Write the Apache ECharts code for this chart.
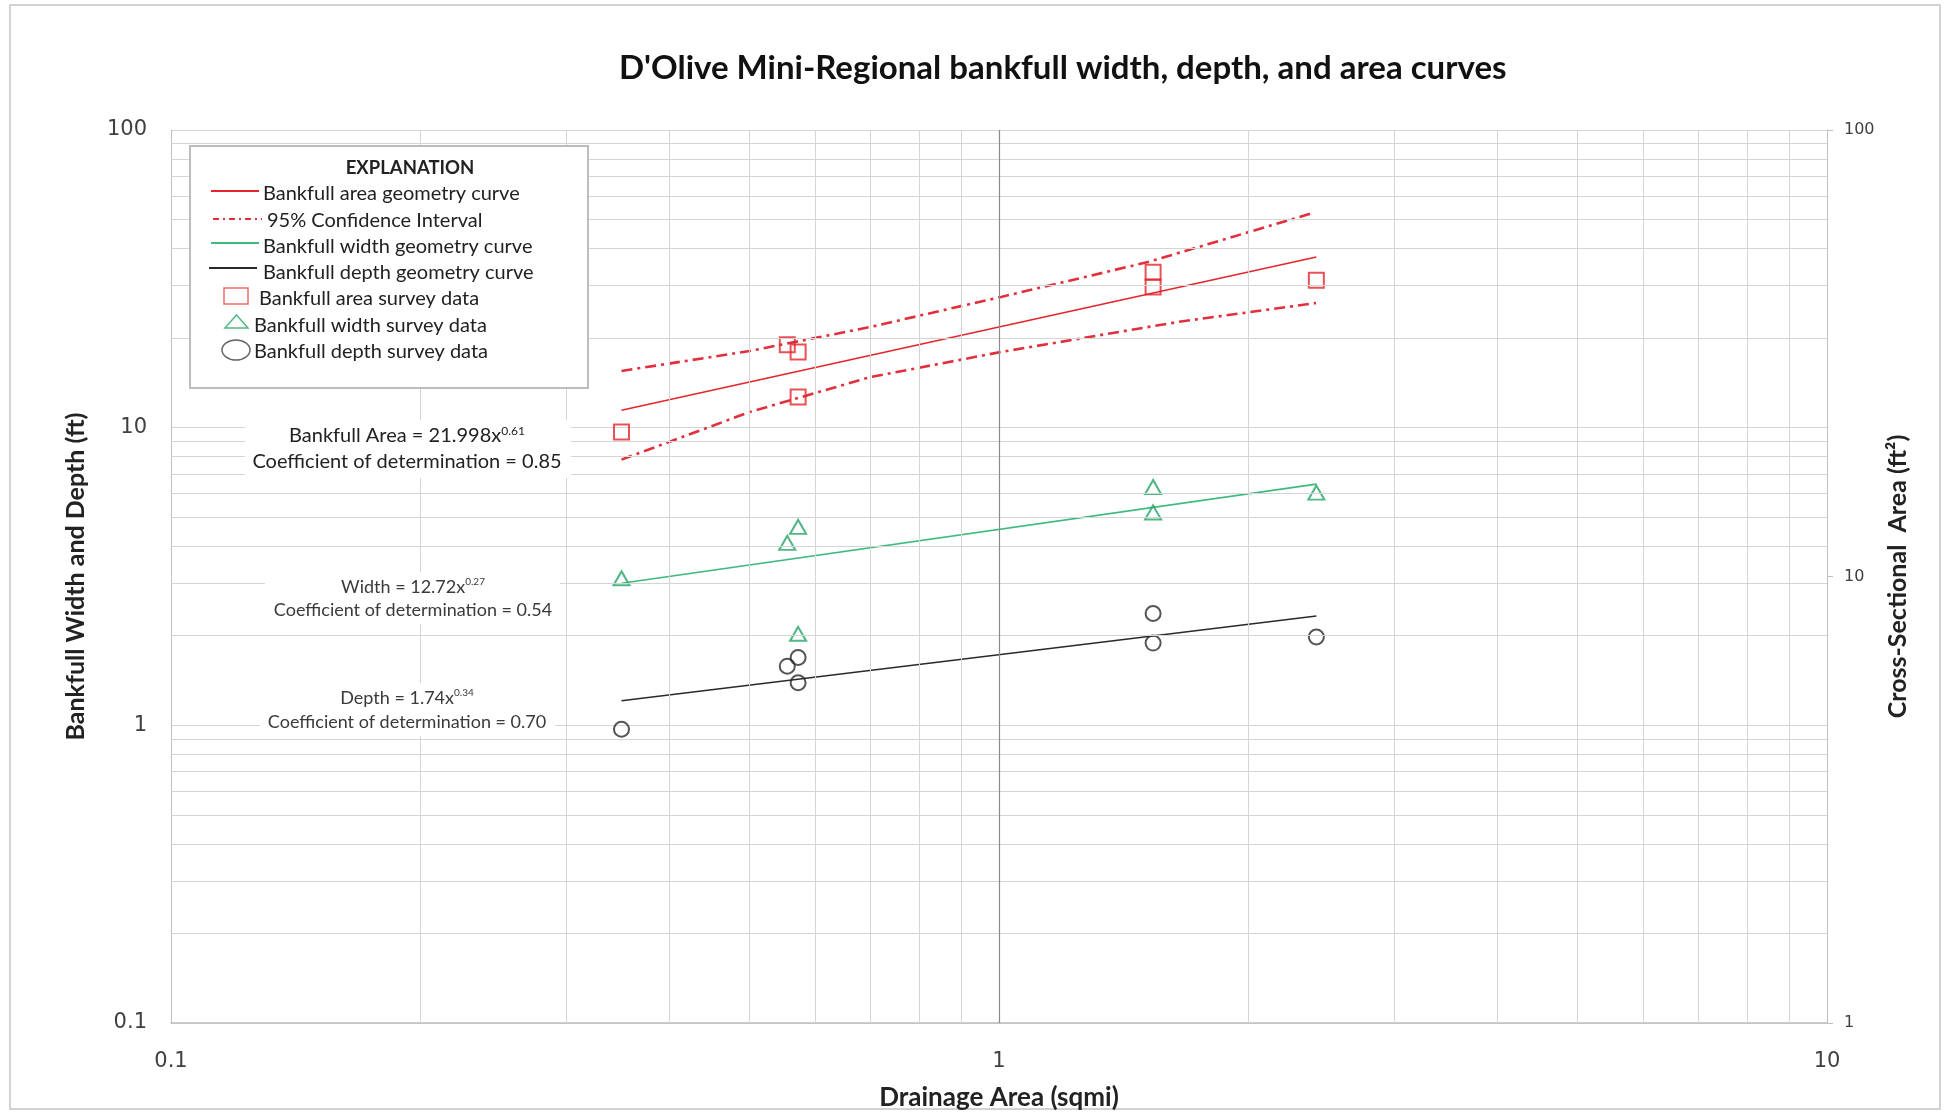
<!DOCTYPE html>
<html><head><meta charset="utf-8">
<script src="https://cdn.jsdelivr.net/npm/echarts@6/dist/echarts.min.js"></script>
<style>html,body{margin:0;padding:0;background:#fff}#c{width:1952px;height:1113px}</style>
</head><body><div id="c"></div><script>
// ---------- data ----------
const chartTitle = "D'Olive Mini-Regional bankfull width, depth, and area curves";
const xAxisTitle = 'Drainage Area (sqmi)';
const leftAxisTitle = 'Bankfull Width and Depth (ft)';
const rightAxisTitle = 'Cross-Sectional  Area (ft²)';
const xTickLabels = [0.1, 1, 10];
const leftTickLabels = [0.1, 1, 10, 100];
const rightTickLabels = [1, 10, 100];
const minorX = [0.2,0.3,0.4,0.5,0.6,0.7,0.8,0.9,2,3,4,5,6,7,8,9];
const minorY = [0.2,0.3,0.4,0.5,0.6,0.7,0.8,0.9,2,3,4,5,6,7,8,9,20,30,40,50,60,70,80,90];

const surveyX     = [0.35, 0.555, 0.572, 0.572, 1.535, 1.535, 2.417];
const areaSurvey  = [9.67, 19.0, 17.96, 12.68, 33.3, 29.7, 31.3];
const widthSurvey = [3.12, 4.10, 4.64, 2.03, 6.32, 5.19, 6.05];
const depthSurvey = [0.97, 1.58, 1.69, 1.39, 2.375, 1.89, 1.98];

const curveX     = [0.35, 2.417];
const areaCurve  = [11.44, 37.43];
const widthCurve = [3.00, 6.46];
const depthCurve = [1.21, 2.33];

const ciUpperX = [0.35, 0.50, 0.70, 1.006, 1.513, 2.393];
const ciUpper  = [15.5, 18.1, 21.8, 27.5, 36.0, 52.6];
const ciLowerX = [0.35, 0.50, 0.70, 1.006, 1.644, 2.415];
const ciLower  = [7.81, 11.29, 14.8, 17.96, 22.65, 26.22];

const legendTitle = 'EXPLANATION';
const legendNames = [
  'Bankfull area geometry curve',
  '95% Confidence Interval',
  'Bankfull width geometry curve',
  'Bankfull depth geometry curve',
  'Bankfull area survey data',
  'Bankfull width survey data',
  'Bankfull depth survey data'
];
const equations = [
  {lead: 'Bankfull Area = 21.998x', exp: '0.61', r2: 'Coefficient of determination = 0.85'},
  {lead: 'Width = 12.72x', exp: '0.27', r2: 'Coefficient of determination = 0.54'},
  {lead: 'Depth = 1.74x', exp: '0.34', r2: 'Coefficient of determination = 0.70'}
];

// ---------- styles ----------
const RED = '#e4262c', RED_CI = '#e0303c', GREEN = '#23a567', GREEN_LINE = '#3dbb7e', BLACK = '#2a2a2a';
const CALIBRI = 'Lato, "Open Sans", sans-serif';
const TICKFONT = '"DejaVu Sans", Verdana, sans-serif';
const ciDash = [11, 5, 3, 5];

const zip = (xs, ys) => xs.map((x, i) => [x, ys[i]]);
const fmt = v => String(+(+v).toPrecision(6));

const chart = echarts.init(document.getElementById('c'), null, {renderer: 'canvas'});

// legend graphics
const legX0 = 190, legY0 = 146, legW = 398, legH = 242;
const rowY = [194, 221, 247, 273, 299, 325.5, 351.5];
const textX = [263, 267, 263, 263, 259, 254, 254];
const legendGraphics = [
  {type: 'rect', z: 100, shape: {x: legX0, y: legY0, width: legW, height: legH},
   style: {fill: '#fff', stroke: '#bdbdbd', lineWidth: 2}},
  {type: 'text', z: 101, x: 410, y: 168,
   style: {text: legendTitle, font: 'bold 18.5px ' + CALIBRI, fill: '#222', align: 'center', verticalAlign: 'middle'}},
  {type: 'line', z: 101, shape: {x1: 211, y1: rowY[0] - 3, x2: 259, y2: rowY[0] - 3}, style: {stroke: RED, lineWidth: 1.8}},
  {type: 'line', z: 101, shape: {x1: 213, y1: rowY[1] - 2, x2: 262, y2: rowY[1] - 2}, style: {stroke: RED_CI, lineWidth: 2, lineDash: [6, 4, 2, 4]}},
  {type: 'line', z: 101, shape: {x1: 211, y1: rowY[2] - 4, x2: 259, y2: rowY[2] - 4}, style: {stroke: GREEN_LINE, lineWidth: 1.8}},
  {type: 'line', z: 101, shape: {x1: 209, y1: rowY[3] - 5, x2: 257, y2: rowY[3] - 5}, style: {stroke: BLACK, lineWidth: 1.8}},
  {type: 'rect', z: 101, shape: {x: 224, y: 288, width: 24, height: 16}, style: {fill: 'none', stroke: '#e76d70', lineWidth: 1.5}},
  {type: 'polygon', z: 101, shape: {points: [[236.5, 315], [248, 328], [225, 328]]}, style: {fill: 'none', stroke: '#53b889', lineWidth: 1.5}},
  {type: 'ellipse', z: 101, shape: {cx: 236, cy: 350, rx: 14, ry: 10}, style: {fill: 'none', stroke: '#666', lineWidth: 1.5}}
];
legendNames.forEach((n, i) => legendGraphics.push({
  type: 'text', z: 101, x: textX[i], y: rowY[i],
  style: {text: n, font: '20px ' + CALIBRI, fill: '#222', align: 'left', verticalAlign: 'middle'}
}));

// equation graphics
const eqPos = [
  {cx: 407, y1: 436, y2: 462, size: 20, color: '#222', box: [245, 420, 326, 58]},
  {cx: 413, y1: 587, y2: 610, size: 18, color: '#3a3a3a', box: [265, 572, 295, 52]},
  {cx: 407, y1: 698, y2: 722, size: 18, color: '#3a3a3a', box: [260, 683, 295, 53]}
];
const eqGraphics = [];
equations.forEach((e, i) => {
  const p = eqPos[i];
  eqGraphics.push({type: 'rect', z: 90, shape: {x: p.box[0], y: p.box[1], width: p.box[2], height: p.box[3]}, style: {fill: '#fff'}});
  eqGraphics.push({type: 'text', z: 91, x: p.cx, y: p.y1, style: {
    text: '{m|' + e.lead + '}{s|' + e.exp + '}', align: 'center', verticalAlign: 'middle',
    rich: {m: {fontFamily: CALIBRI, fontSize: p.size, fill: p.color, lineHeight: p.size + 2},
           s: {fontFamily: CALIBRI, fontSize: Math.round(p.size * 0.58), fill: p.color, verticalAlign: 'top', lineHeight: p.size + 2}}
  }});
  eqGraphics.push({type: 'text', z: 91, x: p.cx, y: p.y2, style: {
    text: e.r2, font: p.size + 'px ' + CALIBRI, fill: p.color, align: 'center', verticalAlign: 'middle'}});
});

const option = {
  backgroundColor: '#fff',
  animation: false,
  title: {
    text: chartTitle, left: 619, top: 52, padding: 0,
    textStyle: {fontFamily: CALIBRI, fontWeight: 'bold', fontSize: 33, color: '#111'}
  },
  grid: {left: 171, right: 125, top: 130, bottom: 90, containLabel: false, outerBoundsMode: 'none'},
  xAxis: {
    type: 'log', logBase: 10, min: xTickLabels[0], max: xTickLabels[xTickLabels.length - 1],
    name: xAxisTitle, nameLocation: 'middle', nameGap: 62,
    nameTextStyle: {fontFamily: CALIBRI, fontWeight: 'bold', fontSize: 26, color: '#222'},
    axisLine: {show: true, lineStyle: {color: '#bfbfbf', width: 1.5}},
    axisTick: {show: false},
    axisLabel: {fontFamily: TICKFONT, fontSize: 21, color: '#404040', margin: 28, formatter: fmt},
    splitLine: {show: true, lineStyle: {color: '#d4d4d4', width: 1}}
  },
  yAxis: [{
    type: 'log', logBase: 10, min: leftTickLabels[0], max: leftTickLabels[leftTickLabels.length - 1],
    position: 'left',
    name: leftAxisTitle, nameLocation: 'middle', nameGap: 83,
    nameTextStyle: {fontFamily: CALIBRI, fontWeight: 'bold', fontSize: 25, color: '#222'},
    axisLine: {show: true, lineStyle: {color: '#bfbfbf', width: 1}},
    axisTick: {show: false},
    axisLabel: {fontFamily: TICKFONT, fontSize: 21, color: '#404040', margin: 24, formatter: fmt},
    splitLine: {show: true, lineStyle: {color: '#d4d4d4', width: 1}}
  }, {
    type: 'log', logBase: 10, min: rightTickLabels[0], max: rightTickLabels[rightTickLabels.length - 1],
    position: 'right',
    name: rightAxisTitle, nameLocation: 'middle', nameGap: 57,
    nameTextStyle: {fontFamily: CALIBRI, fontWeight: 'bold', fontSize: 25, color: '#222'},
    axisLine: {show: true, lineStyle: {color: '#bfbfbf', width: 1}},
    axisTick: {show: true, length: 6, lineStyle: {color: '#bfbfbf'}},
    axisLabel: {fontFamily: TICKFONT, fontSize: 16, color: '#404040', margin: 17, formatter: fmt},
    splitLine: {show: false}
  }],
  graphic: [
    {type: 'rect', z: -1, silent: true, shape: {x: 10, y: 5, width: 1930, height: 1104},
     style: {fill: 'none', stroke: '#c4c4c4', lineWidth: 1.5}}
  ].concat(eqGraphics, legendGraphics),
  series: [
    {type: 'line', name: 'grid', data: [], z: 1, silent: true,
     markLine: {silent: true, symbol: ['none', 'none'], label: {show: false}, animation: false,
       lineStyle: {color: '#d4d4d4', width: 1, type: 'solid'},
       emphasis: {disabled: true},
       data: minorX.map(v => ({xAxis: v})).concat(minorY.map(v => ({yAxis: v})),
             [{xAxis: 1, lineStyle: {color: '#8a8a8a', width: 1.2}}])}},
    {type: 'line', name: legendNames[0], data: zip(curveX, areaCurve), symbol: 'none', z: 3,
     lineStyle: {color: RED, width: 1.6}},
    {type: 'line', name: legendNames[1], data: zip(ciUpperX, ciUpper), symbol: 'none', z: 3,
     lineStyle: {color: RED_CI, width: 2.6, type: ciDash}},
    {type: 'line', name: legendNames[1] + ' (lower)', data: zip(ciLowerX, ciLower), symbol: 'none', z: 3,
     lineStyle: {color: RED_CI, width: 2.6, type: ciDash}},
    {type: 'line', name: legendNames[2], data: zip(curveX, widthCurve), symbol: 'none', z: 3,
     lineStyle: {color: GREEN_LINE, width: 1.6}},
    {type: 'line', name: legendNames[3], data: zip(curveX, depthCurve), symbol: 'none', z: 3,
     lineStyle: {color: BLACK, width: 1.6}},
    {type: 'scatter', name: legendNames[4], data: zip(surveyX, areaSurvey), symbol: 'rect', symbolSize: 15, z: 4,
     itemStyle: {color: 'rgba(0,0,0,0)', borderColor: RED, borderWidth: 2}},
    {type: 'scatter', name: legendNames[5], data: zip(surveyX, widthSurvey), symbol: 'triangle', symbolSize: [16, 14], z: 4,
     itemStyle: {color: 'rgba(0,0,0,0)', borderColor: GREEN, borderWidth: 2}},
    {type: 'scatter', name: legendNames[6], data: zip(surveyX, depthSurvey), symbol: 'circle', symbolSize: 15, z: 4,
     itemStyle: {color: 'rgba(0,0,0,0)', borderColor: BLACK, borderWidth: 2}}
  ]
};
chart.setOption(option);
</script></body></html>
